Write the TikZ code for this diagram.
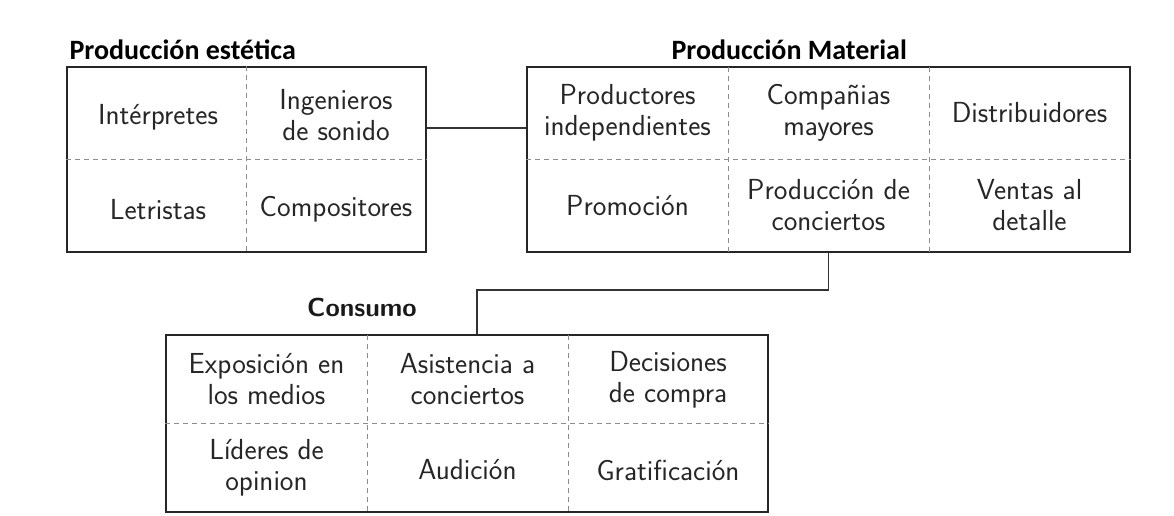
\documentclass[tikz,border=0pt]{standalone}
\usepackage{fontspec}
\newfontfamily\titlefont{Carlito}
\usetikzlibrary{positioning}

\begin{document}
\begin{tikzpicture}[x=1pt,y=1pt,
	box/.style={draw=black!85, line width=1.3pt, inner sep=0pt},
	cell/.style={align=center, text=black!85, font=\sffamily\fontsize{29}{31}\selectfont},
	grid/.style={draw=black!45, line width=1pt, dash pattern=on 5pt off 4pt},
	title/.style={font=\titlefont\bfseries\fontsize{28}{32}\selectfont},
	link/.style={draw=black!80, line width=1.3pt}]
	\useasboundingbox (0,0) rectangle (1174,516);
	% Produccion estetica
	\node[box, minimum width=359, minimum height=185] (PE) at (246.5,356.5) {};
	\node[title, anchor=base west] (tPE) at (66,456) {Producción estética};
	\draw[grid] (PE.north) -- (PE.south);
	\draw[grid] (PE.west) -- (PE.east);
	\node[cell] (Int) at (158,399) {Intérpretes};
	\node[cell] (Ing) at (336,401) {Ingenieros\\de sonido};
	\node[cell] (Let) at (158,306.5) {Letristas};
	\node[cell] (Com) at (336,306.5) {Compositores};
	% Produccion material
	\node[box, minimum width=603, minimum height=185] (PM) at (828.5,356.5) {};
	\node[title, anchor=base west] (tPM) at (668,456) {Producción Material};
	\foreach \x in {728,929}
		\draw[grid] (\x,449) -- (\x,264);
	\draw[grid] (PM.west) -- (PM.east);
	\node[cell] (Pro) at (627.5,403) {Productores\\independientes};
	\node[cell] (Cia) at (828.5,403) {Compañias\\mayores};
	\node[cell] (Dis) at (1029.5,403) {Distribuidores};
	\node[cell] (Prm) at (627.5,310.5) {Promoción};
	\node[cell] (Con) at (828.5,310.5) {Producción de\\conciertos};
	\node[cell] (Ven) at (1029.5,310.5) {Ventas al\\detalle};
	% Consumo
	\node[box, minimum width=602, minimum height=177] (CO) at (467,92.5) {};
	\node[cell, font=\sffamily\bfseries\fontsize{26}{30}\selectfont, text=black!90] (tCO) at (362,209) {Consumo};
	\foreach \x in {367,568}
		\draw[grid] (\x,181) -- (\x,4);
	\draw[grid] (CO.west |- 0,92) -- (CO.east |- 0,92);
	\node[cell] (Exp) at (266.5,136.5) {Exposición en\\los medios};
	\node[cell] (Asi) at (467.5,136.5) {Asistencia a\\conciertos};
	\node[cell] (Dec) at (668,136.5) {Decisiones\\de compra};
	\node[cell] (Lid) at (266.5,48) {Líderes de\\opinion};
	\node[cell] (Aud) at (467.5,46) {Audición};
	\node[cell] (Gra) at (668,46) {Gratificación};
	% conectores
	\draw[link] (PE.east |- 0,388) -- (PM.west |- 0,388);
	\draw[link] (PM.south) |- (477,226) -- (CO.north -| 477,226);
\end{tikzpicture}
\end{document}
